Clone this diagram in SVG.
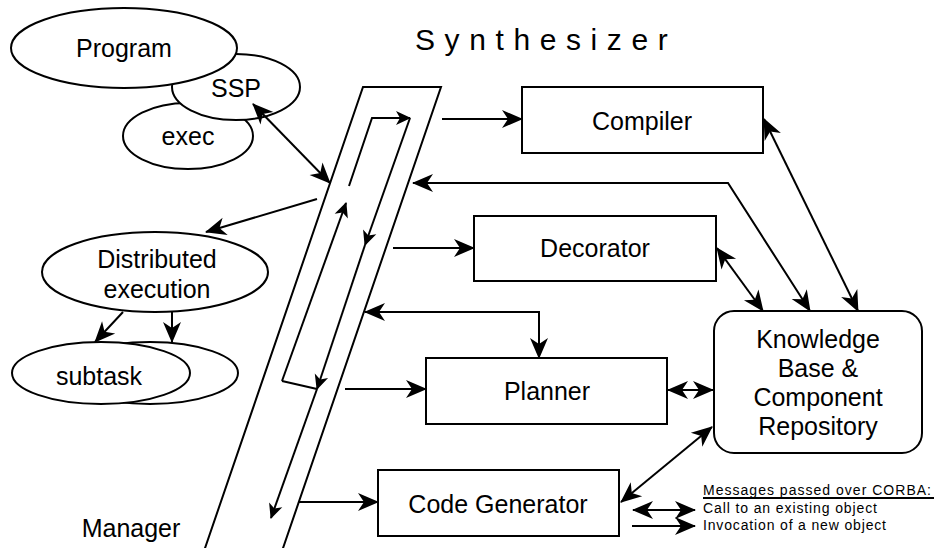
<svg xmlns="http://www.w3.org/2000/svg" width="934" height="548" viewBox="0 0 934 548">
<style>
.s{fill:none;stroke:#000;stroke-width:2}
.n{fill:#fff;stroke:#000;stroke-width:2}
.t{font-family:"Liberation Sans",Arial,sans-serif;font-size:25px;fill:#000;text-anchor:middle}
.l{font-family:"Liberation Sans",Arial,sans-serif;font-size:14px;fill:#000}
.a{marker-end:url(#ah)}
.d{marker-start:url(#ah);marker-end:url(#ah)}
.sa{marker-end:url(#sh)}
</style>
<defs>
<marker id="ah" viewBox="-22 -11 24 22" refX="0" refY="0" markerWidth="24" markerHeight="22" markerUnits="userSpaceOnUse" orient="auto-start-reverse"><path d="M1,0 L-20,-9 L-14,0 L-20,9 Z" fill="#000"/></marker>
<marker id="sh" viewBox="-16 -8 18 16" refX="0" refY="0" markerWidth="18" markerHeight="16" markerUnits="userSpaceOnUse" orient="auto-start-reverse"><path d="M1,0 L-14,-7 L-10,0 L-14,7 Z" fill="#000"/></marker>
</defs>
<rect width="934" height="548" fill="#fff"/>
<text class="t" x="415" y="50" style="font-size:30px;text-anchor:start" letter-spacing="9.6">Synthesizer</text>

<g id="exec"><ellipse class="n" cx="188" cy="136" rx="65" ry="33"/><text class="t" x="188" y="145">exec</text></g>
<g id="ssp"><ellipse class="n" cx="236" cy="87" rx="64" ry="33"/><text class="t" x="236" y="97">SSP</text></g>
<g id="program"><ellipse class="n" cx="124" cy="48" rx="113" ry="40"/><text class="t" x="124" y="57">Program</text></g>

<g id="manager">
<polyline class="s" points="203,554 363,87 441,87 281,554"/>
<text class="t" x="131" y="537">Manager</text>
</g>

<g id="distributed"><ellipse class="n" cx="155" cy="272" rx="113" ry="40"/><text class="t" x="157" y="268">Distributed</text><text class="t" x="157" y="298">execution</text></g>
<g id="subtask2"><ellipse class="n" cx="150" cy="373" rx="88" ry="31"/></g>
<g id="subtask"><ellipse class="n" cx="101" cy="373" rx="89" ry="31"/><text class="t" x="99" y="385">subtask</text></g>

<g id="compiler"><rect class="n" x="522" y="87" width="241" height="66"/><text class="t" x="642" y="130">Compiler</text></g>
<g id="decorator"><rect class="n" x="474" y="216" width="242" height="65"/><text class="t" x="595" y="257">Decorator</text></g>
<g id="planner"><rect class="n" x="426" y="358" width="241" height="66"/><text class="t" x="547" y="400">Planner</text></g>
<g id="codegen"><rect class="n" x="378" y="470" width="241" height="66"/><text class="t" x="498" y="513">Code Generator</text></g>
<g id="kb"><rect class="n" x="714" y="311" width="208" height="142" rx="20" ry="20"/>
<text class="t" x="818" y="348">Knowledge</text><text class="t" x="818" y="377">Base &amp;</text><text class="t" x="818" y="406">Component</text><text class="t" x="818" y="435">Repository</text></g>

<g id="connectors">
<line class="s d" x1="253" y1="104" x2="330" y2="183"/>
<line class="s a" x1="317" y1="199" x2="206" y2="232"/>
<line class="s a" x1="123" y1="312" x2="95" y2="342"/>
<line class="s a" x1="172" y1="312" x2="172" y2="342"/>
<polyline class="s sa" points="349,186 372,118 410,118"/>
<line class="s sa" x1="410" y1="118" x2="365" y2="245"/>
<line class="s sa" x1="365" y1="245" x2="317" y2="389"/>
<line class="s sa" x1="317" y1="389" x2="271" y2="518"/>
<line class="s" x1="282" y1="381" x2="317" y2="389"/>
<line class="s sa" x1="282" y1="381" x2="346" y2="203"/>
<line class="s a" x1="442" y1="119" x2="522" y2="119"/>
<polyline class="s d" points="413,183 728,183 810,311"/>
<line class="s d" x1="764" y1="119" x2="858" y2="311"/>
<line class="s a" x1="393" y1="248" x2="474" y2="248"/>
<line class="s d" x1="717" y1="248" x2="763" y2="311"/>
<polyline class="s d" points="365,312 539,312 539,358"/>
<line class="s a" x1="345" y1="389" x2="426" y2="389"/>
<line class="s d" x1="668" y1="390" x2="713" y2="390"/>
<line class="s a" x1="299" y1="502" x2="378" y2="502"/>
<line class="s d" x1="621" y1="502" x2="712" y2="427"/>
</g>

<g id="legend">
<text class="l" x="703" y="495" textLength="228">Messages passed over CORBA:</text>
<line x1="703" y1="498" x2="934" y2="498" stroke="#000" stroke-width="2"/>
<line class="s d" x1="633" y1="510" x2="695" y2="510"/>
<line class="s a" x1="632" y1="526" x2="695" y2="526"/>
<text class="l" x="703" y="513" textLength="174">Call to an existing object</text>
<text class="l" x="703" y="530" textLength="183">Invocation of a new object</text>
</g>
</svg>
